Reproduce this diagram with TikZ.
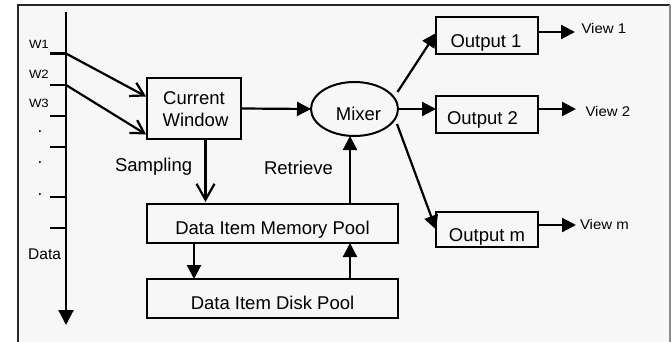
\documentclass[tikz,border=0pt]{standalone}
\usepackage{fontspec}
\setmainfont{Liberation Sans}
\usetikzlibrary{arrows.meta,shapes.geometric,calc}
\definecolor{panel}{RGB}{247,247,247}
\begin{document}
\begin{tikzpicture}[x=1pt,y=-1pt,
  box/.style={draw, line width=2.5pt, inner sep=0pt, outer sep=0pt},
  txt/.style={inner sep=0pt, outer sep=0pt, anchor=base, font=\fontsize{18.5}{21}\selectfont},
  small/.style={inner sep=0pt, outer sep=0pt, anchor=base west, font=\fontsize{12}{14}\selectfont},
  viewtxt/.style={inner sep=0pt, outer sep=0pt, anchor=base west, font=\fontsize{14}{16}\selectfont},
  flow/.style={line width=2.2pt, -{Triangle[length=14pt,width=14pt]}},
  barb/.style={line width=2.2pt, -{Straight Barb[length=13pt,width=15pt]}, shorten >=1pt},
  tick/.style={line width=2.2pt},
  axis/.style={line width=2.2pt, -{Triangle[length=15pt,width=15pt]}}
]
\useasboundingbox (0,0) rectangle (671,342);
% panel and its frame
\fill[white] (0,0) rectangle (671,342);
\fill[panel] (18,5) rectangle (670,342);
\draw[line width=1.6pt, black!85] (18,342) -- (18,5) -- (670,5);
\draw[line width=1.2pt, black!45] (670,5) -- (670,342);

% data time axis with window ticks
\coordinate (dtop) at (66,12);
\coordinate (dend) at (66,325);
\draw[axis] (dtop) -- (dend);
\foreach \y/\n in {53.5/t1, 85/t2, 116/t3, 147/t4, 197/t5, 228/t6} {
  \coordinate (\n) at (66,\y);
  \draw[tick] (\n) -- ++(-16,0);
}
\node[small] (w1) at (29,49) {\scalebox{1.1}[1]{W1}};
\node[small] (w2) at (29,78.5) {\scalebox{1.1}[1]{W2}};
\node[small] (w3) at (29,108) {\scalebox{1.1}[1]{W3}};
\foreach \y/\n in {132/d1, 163/d2, 195/d3} {
  \node[inner sep=0pt, anchor=base, font=\fontsize{17}{18}\selectfont] (\n) at (40,\y) {.};
}
\node[inner sep=0pt, anchor=base west, font=\fontsize{15.5}{18}\selectfont] (datalbl) at (28,259) {Data};

% processing boxes
\node[box, minimum width=94pt, minimum height=61pt] (cw) at (194,108.5) {};
\node[txt] (cwa) at (194,105) {Current};
\node[txt] (cwb) at (195.5,126.7) {Window};
\node[ellipse, draw, line width=2pt, inner sep=0pt, outer sep=0pt,
      minimum width=87pt, minimum height=54pt] (mixer) at (354.5,109) {};
\node[txt] (mixt) at (358.5,121) {Mixer};
\node[box, minimum width=251pt, minimum height=39pt] (mem) at (272.5,223.5) {};
\node[txt] (memt) at (272.5,234) {Data Item Memory Pool};
\node[box, minimum width=251pt, minimum height=39pt] (disk) at (272.5,298.5) {};
\node[txt] (diskt) at (272.5,309.3) {Data Item Disk Pool};

\node[box, minimum width=102pt, minimum height=37pt] (out1) at (487,35.5) {};
\node[txt] (out1t) at (486,47.5) {Output 1};
\node[box, minimum width=102pt, minimum height=37pt] (out2) at (487,114.5) {};
\node[txt] (out2t) at (482.5,124.3) {Output 2};
\node[box, minimum width=102pt, minimum height=35pt] (outm) at (487,229.5) {};
\node[txt] (outmt) at (487,241.7) {Output m};

% windows feeding the current window
\draw[barb] (t1) -- (cw.west |- 0,97);
\draw[barb] (t2) -- (cw.west |- 0,135);

% main flow
\draw[flow] (cw.east) -- (mixer.west);
\draw[line width=2.2pt, -{Straight Barb[length=16pt,width=18pt]}, shorten >=2pt]
  (cw.south -| 205.5,0) -- (mem.north -| 205.5,0);
\node[txt, anchor=base west] (samp) at (115,171) {Sampling};
\draw[flow] (mem.north -| 350,0) -- (mixer.south -| 350,0);
\node[txt, anchor=base west] (retr) at (264,174) {Retrieve};
\draw[flow] (mem.south -| 194,0) -- (disk.north -| 194,0);
\draw[flow] (disk.north -| 350,0) -- (mem.south -| 350,0);

% mixer to the outputs
\draw[flow] ($(mixer.center)+(43,-17)$) -- (out1.west |- 0,33);
\draw[flow] (mixer.east) -- (out2.west |- mixer.east);
\draw[flow] ($(mixer.center)+(42.5,15)$) -- (outm.west);

% outputs to the views
\coordinate (v1) at (575,32);
\coordinate (v2) at (576,109);
\coordinate (vm) at (576,225);
\draw[flow] (out1.east |- v1) -- (v1);
\draw[flow] (out2.east |- v2) -- (v2);
\draw[flow] (outm.east |- vm) -- (vm);
\node[viewtxt] (v1t) at (581.5,34) {\scalebox{1.07}[1]{View 1}};
\node[viewtxt] (v2t) at (585.5,116.5) {\scalebox{1.07}[1]{View 2}};
\node[viewtxt] (vmt) at (580,229) {\scalebox{1.07}[1]{View m}};
\end{tikzpicture}
\end{document}
